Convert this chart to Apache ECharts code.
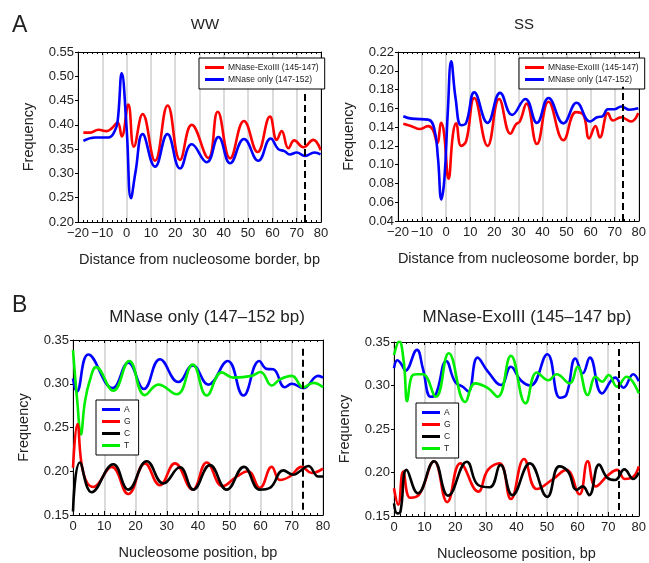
<!DOCTYPE html>
<html>
<head>
<meta charset="UTF-8">
<title>Nucleosome frequency profiles</title>
<style>
body { padding:0; border:0; margin:0; background:#fff; }
</style>
<script src="https://cdn.jsdelivr.net/npm/echarts@6/dist/echarts.min.js"></script>
</head>
<body>
<div id="main" style="width:649px;height:563px;"></div>
<script>
// panel A, WW  -- [distance bp, frequency]
var wwExo = [[-17.8,0.384],[-15,0.384],[-11.6,0.390],[-8.2,0.387],[-6.1,0.393],[-3.7,0.405],[-2,0.376],[0.7,0.442],[3.0,0.355],[6.6,0.422],[11.7,0.326],[16.9,0.440],[22,0.328],[26.8,0.400],[33.6,0.332],[37.5,0.427],[42.6,0.331],[48.3,0.408],[53.9,0.344],[59,0.417],[61.8,0.369],[63.8,0.387],[66.6,0.352],[69,0.368],[72.7,0.354],[76.8,0.369],[79.8,0.348]];
var wwMn = [[-17.8,0.367],[-13,0.374],[-7.5,0.374],[-5,0.386],[-3.7,0.407],[-2,0.506],[0,0.393],[1.8,0.249],[3.7,0.304],[6.6,0.381],[11.7,0.314],[16.8,0.381],[22,0.310],[26.8,0.360],[33,0.323],[37.8,0.375],[42.6,0.321],[48.3,0.371],[54.2,0.326],[59.3,0.372],[62.4,0.350],[64.9,0.346],[67.2,0.339],[70,0.343],[73.4,0.336],[77.3,0.343],[79.8,0.339]];
// panel A, SS
var ssExo = [[-17.8,0.1435],[-14.4,0.141],[-11,0.138],[-7.5,0.141],[-5.5,0.137],[-3.7,0.123],[-2,0.1445],[-0.9,0.134],[1.0,0.085],[2.8,0.132],[4.1,0.144],[6.2,0.120],[8.3,0.125],[11.7,0.171],[17.2,0.120],[22,0.170],[26.7,0.133],[29,0.143],[30.6,0.146],[33.4,0.165],[37.7,0.122],[42.5,0.167],[48.7,0.126],[53.9,0.156],[57,0.153],[59.4,0.128],[62,0.141],[63.8,0.129],[67.2,0.155],[69.3,0.147],[72.7,0.1505],[76.8,0.146],[79.8,0.155]];
var ssMn = [[-17.8,0.1516],[-14.4,0.149],[-7.5,0.148],[-5,0.139],[-3.4,0.107],[-2,0.063],[-0.7,0.086],[0.7,0.157],[2.1,0.210],[3.9,0.171],[6.2,0.142],[8.3,0.1445],[11.7,0.177],[17.2,0.1445],[22.4,0.1765],[27.4,0.153],[32.9,0.170],[37.7,0.1445],[42.5,0.171],[48.7,0.144],[54.2,0.166],[59.7,0.146],[62.7,0.1505],[64.9,0.1515],[67.2,0.159],[70,0.159],[72.7,0.162],[76.2,0.1585],[79.8,0.160]];

// panel B, MNase only  -- [position bp, frequency]
var onlyA = [[0,0.306],[1.2,0.291],[4.9,0.3335],[12.7,0.295],[17.7,0.324],[22.7,0.294],[27.8,0.328],[33.7,0.302],[38.3,0.321],[43.3,0.299],[49.5,0.326],[54.5,0.2865],[59.6,0.326],[62,0.317],[64.1,0.3165],[67.8,0.296],[70,0.300],[73.7,0.295],[78.5,0.309],[80,0.307]];
var onlyT = [[0,0.3385],[1.4,0.279],[2.5,0.242],[3.8,0.279],[5.4,0.304],[7.4,0.319],[12.9,0.292],[18,0.326],[23,0.287],[27.3,0.299],[33.2,0.288],[38.3,0.322],[42.8,0.2865],[47.6,0.313],[51.3,0.307],[57.2,0.309],[60,0.3135],[63.6,0.298],[66.2,0.305],[70,0.309],[73.7,0.296],[76.9,0.301],[80,0.296]];
var onlyG = [[0,0.204],[1.4,0.254],[3.3,0.198],[6.5,0.182],[12.4,0.205],[17.7,0.174],[23,0.209],[27.8,0.184],[32.6,0.209],[38.3,0.179],[42.8,0.210],[47.9,0.183],[52.4,0.194],[56,0.200],[59.8,0.181],[63.6,0.205],[66.2,0.190],[69.4,0.194],[73.2,0.205],[76.4,0.198],[80,0.203]];
var onlyC = [[0,0.154],[2.2,0.210],[6,0.176],[12.9,0.208],[17.7,0.179],[23.6,0.2115],[28.9,0.186],[34.2,0.2045],[38.5,0.179],[43.8,0.207],[49.2,0.179],[54.7,0.205],[59.8,0.179],[63,0.181],[67.3,0.201],[70.5,0.196],[72.6,0.200],[75.3,0.206],[78.5,0.194],[80,0.194]];

// panel B, MNase-ExoIII
var exoA = [[0,0.320],[1.1,0.329],[2.5,0.324],[3.7,0.317],[7.5,0.341],[9.4,0.320],[12,0.287],[13.7,0.290],[17.1,0.328],[20,0.304],[22.7,0.298],[24.3,0.293],[27.3,0.332],[30.7,0.316],[35,0.3006],[38.2,0.3216],[41.4,0.306],[44.6,0.300],[50.1,0.336],[54.2,0.286],[56.3,0.289],[59.3,0.331],[61.7,0.314],[64,0.332],[68,0.291],[72.3,0.309],[75,0.2975],[78.2,0.313],[80,0.305]];
var exoT = [[0,0.335],[1.7,0.351],[3.2,0.327],[4.3,0.282],[5.7,0.310],[7.3,0.313],[9.4,0.313],[13.7,0.287],[17.9,0.337],[23.3,0.281],[26.5,0.3025],[30.7,0.297],[33.9,0.287],[38.2,0.334],[43,0.2795],[46.7,0.315],[50.5,0.306],[53.1,0.313],[57.4,0.3025],[60,0.3216],[63.3,0.289],[65.9,0.310],[68,0.3044],[70.2,0.312],[72.9,0.2987],[76,0.310],[80,0.291]];
var exoG = [[0,0.182],[1.4,0.163],[3,0.201],[5.3,0.171],[8.3,0.175],[13.1,0.213],[17.4,0.166],[21.7,0.2105],[27.5,0.178],[30.7,0.203],[34.5,0.2105],[38.2,0.1695],[42.5,0.2155],[46.7,0.181],[52,0.1925],[56.3,0.203],[60.6,0.175],[63.3,0.213],[65.9,0.184],[70,0.197],[72.9,0.203],[75.5,0.1925],[78.2,0.195],[80,0.207]];
var exoC = [[0,0.1646],[1.1,0.153],[2.1,0.155],[4.1,0.203],[7.8,0.176],[13.1,0.213],[17.7,0.1734],[23.8,0.2124],[27.5,0.1856],[31.3,0.183],[34.8,0.2086],[38.7,0.174],[44.4,0.2105],[50.1,0.172],[54,0.207],[56.9,0.201],[59.7,0.180],[61.7,0.184],[63.8,0.174],[67,0.209],[69.7,0.194],[72.3,0.1914],[75.3,0.2036],[78.2,0.1925],[80,0.200]];

// dashed marker at the border position, [x, yFrom, yTo] per panel
var cutWW = [73.5, 0.20, 0.468];
var cutSS = [73.5, 0.04, 0.183];
var cutOnly = [73.5, 0.156, 0.344];
var cutExo = [73.5, 0.157, 0.345];

var nameExo = 'MNase-ExoIII (145-147)';
var nameMn = 'MNase only (147-152)';

var RED = '#ff0000', BLUE = '#0000ff', GREEN = '#00ee00', BLACK = '#000000';
var FONT = 'Liberation Sans, Arial, sans-serif';

var grids = [
    {left: 78, top: 52, width: 243, height: 170},
    {left: 398, top: 52, width: 243, height: 169},
    {left: 73, top: 340, width: 250, height: 175},
    {left: 394, top: 342, width: 250, height: 174}
];

function minusFmt(v) {
    return String(v).replace('-', '\u2212');
}

var xAxes = [], yAxes = [];
function addAxes(gi, xmin, xmax, ymin, ymax, yint, xname) {
    xAxes.push({
        gridIndex: gi, type: 'value', min: xmin, max: xmax, interval: 10,
        axisLine: {onZero: false, lineStyle: {color: '#000', width: 1}},
        axisTick: {inside: true, length: 4, lineStyle: {color: '#000'}},
        minorTick: {show: true, splitNumber: 5, length: 2, lineStyle: {color: '#000'}},
        splitLine: {show: true, lineStyle: {color: '#cfcfcf', width: 1.5}},
        axisLabel: {color: '#222', fontSize: 13, fontFamily: FONT, margin: 5, formatter: minusFmt},
        name: xname, nameLocation: 'middle', nameGap: 30,
        nameTextStyle: {color: '#222', fontSize: 14.5, fontFamily: FONT}
    });
    xAxes.push({
        gridIndex: gi, type: 'value', min: xmin, max: xmax, interval: 10, position: 'top',
        axisLine: {onZero: false, lineStyle: {color: '#000', width: 1}},
        axisTick: {inside: true, length: 3, lineStyle: {color: '#000'}},
        minorTick: {show: true, splitNumber: 5, length: 2, lineStyle: {color: '#000'}},
        splitLine: {show: false}, axisLabel: {show: false}
    });
    yAxes.push({
        gridIndex: gi, type: 'value', min: ymin, max: ymax, interval: yint,
        axisLine: {show: true, onZero: false, lineStyle: {color: '#000', width: 1}},
        axisTick: {show: true, length: 3, lineStyle: {color: '#000'}},
        splitLine: {show: false},
        axisLabel: {color: '#222', fontSize: 13, fontFamily: FONT, margin: 4,
            formatter: function (v) { return v.toFixed(2); }},
        name: 'Frequency', nameLocation: 'middle', nameGap: 42,
        nameTextStyle: {color: '#222', fontSize: 14.5, fontFamily: FONT}
    });
    yAxes.push({
        gridIndex: gi, type: 'value', min: ymin, max: ymax, position: 'right',
        axisLine: {show: true, onZero: false, lineStyle: {color: '#000', width: 1}},
        axisTick: {show: false}, axisLabel: {show: false}, splitLine: {show: false}
    });
}

addAxes(0, -20, 80, 0.20, 0.55, 0.05, 'Distance from nucleosome border, bp');
addAxes(1, -20, 80, 0.04, 0.22, 0.02, 'Distance from nucleosome border, bp');
addAxes(2, 0, 80, 0.15, 0.35, 0.05, 'Nucleosome position, bp');
addAxes(3, 0, 80, 0.15, 0.35, 0.05, 'Nucleosome position, bp');

function line(name, color, data, gi) {
    return {
        name: name, type: 'line', data: data,
        xAxisIndex: gi * 2, yAxisIndex: gi * 2,
        smooth: 0.45, showSymbol: false, symbol: 'none',
        lineStyle: {color: color, width: 2.6}, itemStyle: {color: color},
        z: 3
    };
}

function cutLine(gi, cut) {
    return {
        type: 'line', data: [], xAxisIndex: gi * 2, yAxisIndex: gi * 2, z: 5,
        markLine: {
            symbol: 'none', silent: true, label: {show: false},
            lineStyle: {type: [7, 4], color: '#000', width: 2},
            data: [[{coord: [cut[0], cut[1]]}, {coord: [cut[0], cut[2]]}]]
        }
    };
}

var series = [
    line(nameExo, RED, wwExo, 0), line(nameMn, BLUE, wwMn, 0), cutLine(0, cutWW),
    line(nameExo, RED, ssExo, 1), line(nameMn, BLUE, ssMn, 1), cutLine(1, cutSS),
    line('A', BLUE, onlyA, 2), line('T', GREEN, onlyT, 2), line('G', RED, onlyG, 2), line('C', BLACK, onlyC, 2), cutLine(2, cutOnly),
    line('A', BLUE, exoA, 3), line('T', GREEN, exoT, 3), line('G', RED, exoG, 3), line('C', BLACK, exoC, 3), cutLine(3, cutExo)
];

function legendBox(left, top, names, w, pad) {
    return {
        left: left, top: top, orient: 'vertical', data: names,
        icon: 'rect', itemWidth: w, itemHeight: 3, itemGap: 3,
        borderColor: '#000', borderWidth: 1, padding: pad,
        backgroundColor: '#fff', selectedMode: false,
        textStyle: {fontSize: 8.5, color: '#222', fontFamily: FONT, padding: [0, 0, 0, -1]}
    };
}

var titleStyle = {color: '#222', fontWeight: 'normal', fontFamily: FONT};
var option = {
    animation: false,
    backgroundColor: '#fff',
    title: [
        {text: 'A', left: 7, top: 9, textStyle: Object.assign({fontSize: 23}, titleStyle)},
        {text: 'WW', left: 200, top: 12, textAlign: 'center', textStyle: Object.assign({fontSize: 15}, titleStyle)},
        {text: 'SS', left: 519, top: 12, textAlign: 'center', textStyle: Object.assign({fontSize: 15}, titleStyle)},
        {text: 'B', left: 7, top: 289, textStyle: Object.assign({fontSize: 23}, titleStyle)},
        {text: 'MNase only (147\u2013152 bp)', left: 202, top: 304, textAlign: 'center', textStyle: Object.assign({fontSize: 17}, titleStyle)},
        {text: 'MNase-ExoIII (145\u2013147 bp)', left: 522, top: 304, textAlign: 'center', textStyle: Object.assign({fontSize: 17}, titleStyle)}
    ],
    legend: [
        legendBox(199, 58, [nameExo, nameMn], 19, [5, 6, 5, 6]),
        legendBox(519, 58, [nameExo, nameMn], 19, [5, 6, 5, 6]),
        legendBox(96, 400, ['A', 'G', 'C', 'T'], 18, [5, 8, 5, 6]),
        legendBox(416, 403, ['A', 'G', 'C', 'T'], 18, [5, 8, 5, 6])
    ],
    grid: grids,
    xAxis: xAxes,
    yAxis: yAxes,
    series: series
};

var myChart = echarts.init(document.getElementById('main'));
myChart.setOption(option);
</script>
</body>
</html>
